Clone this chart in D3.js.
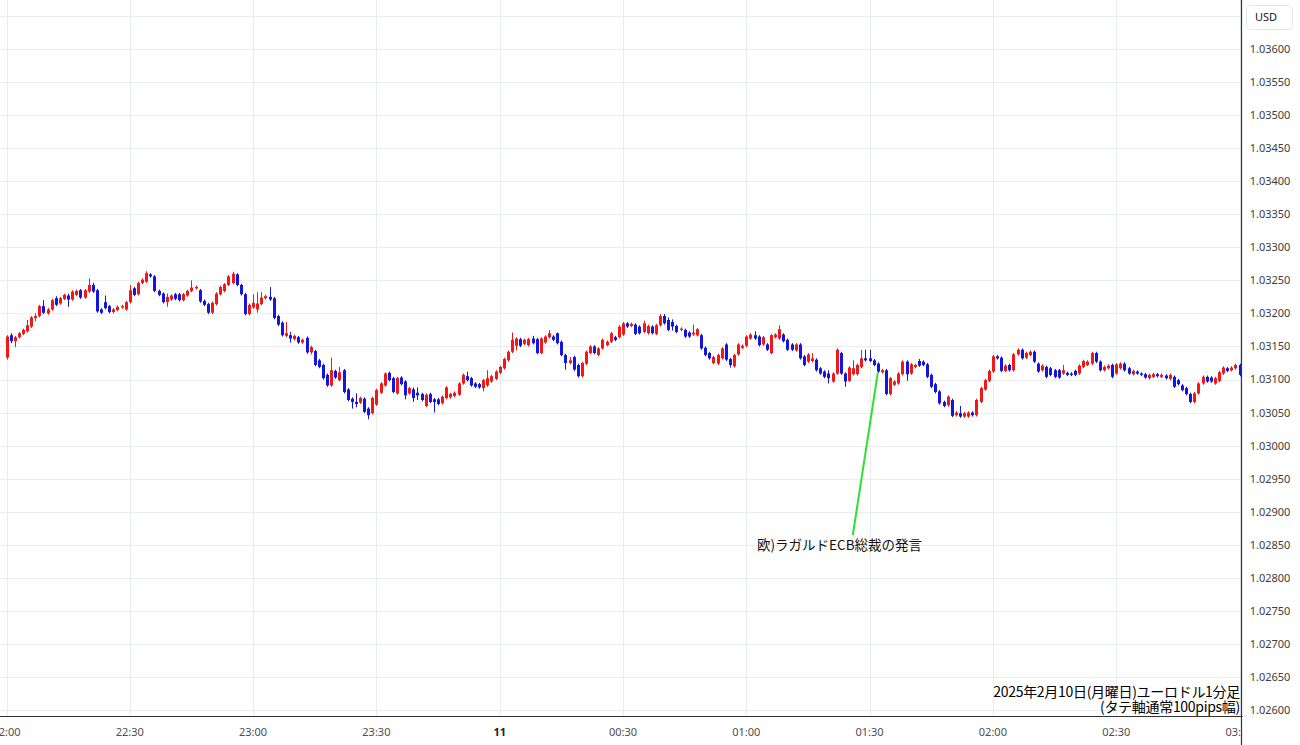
<!DOCTYPE html>
<html><head><meta charset="utf-8">
<script src="https://cdn.jsdelivr.net/npm/d3@7"></script>
<style>html,body{margin:0;padding:0;background:#fff;overflow:hidden}svg{display:block}</style>
</head><body>
<svg id="chart" width="1300" height="745"></svg>
<script>
// ---- data (EUR/USD 1-minute candles, 2025-02-10 22:00 -> 2025-02-11 03:00) ----
const startTime = "2025-02-10T22:00:00Z";
const opens = [
1.03133,1.03167,1.03158,1.03164,1.03169,1.03173,1.03180,1.03193,1.03196,1.03211,
1.03200,1.03206,1.03223,1.03215,1.03222,1.03227,1.03221,1.03228,1.03235,1.03224,
1.03233,1.03243,1.03235,1.03206,1.03217,1.03211,1.03202,1.03205,1.03209,1.03206,
1.03217,1.03238,1.03229,1.03246,1.03248,1.03259,1.03256,1.03234,1.03230,1.03217,
1.03221,1.03229,1.03229,1.03220,1.03227,1.03234,1.03238,1.03235,1.03219,1.03214,
1.03201,1.03214,1.03229,1.03234,1.03243,1.03246,1.03259,1.03243,1.03229,1.03199,
1.03209,1.03206,1.03214,1.03223,1.03225,1.03223,1.03196,1.03186,1.03166,1.03167,
1.03161,1.03164,1.03156,1.03163,1.03141,1.03143,1.03129,1.03122,1.03107,1.03091,
1.03113,1.03099,1.03114,1.03085,1.03071,1.03066,1.03065,1.03071,1.03056,1.03049,
1.03062,1.03080,1.03091,1.03110,1.03102,1.03079,1.03103,1.03097,1.03079,1.03085,
1.03080,1.03078,1.03060,1.03078,1.03070,1.03070,1.03064,1.03072,1.03073,1.03075,
1.03077,1.03094,1.03105,1.03102,1.03094,1.03093,1.03087,1.03091,1.03097,1.03101,
1.03110,1.03117,1.03129,1.03142,1.03151,1.03161,1.03154,1.03152,1.03162,1.03161,
1.03140,1.03156,1.03164,1.03165,1.03170,1.03157,1.03137,1.03125,1.03134,1.03122,
1.03105,1.03124,1.03140,1.03150,1.03137,1.03147,1.03152,1.03157,1.03164,1.03164,
1.03168,1.03185,1.03181,1.03183,1.03180,1.03172,1.03170,1.03180,1.03169,1.03182,
1.03196,1.03190,1.03187,1.03181,1.03175,1.03175,1.03171,1.03168,1.03167,1.03167,
1.03148,1.03140,1.03125,1.03124,1.03132,1.03153,1.03131,1.03120,1.03138,1.03148,
1.03151,1.03162,1.03167,1.03165,1.03153,1.03153,1.03140,1.03164,1.03162,1.03168,
1.03160,1.03153,1.03144,1.03153,1.03135,1.03127,1.03128,1.03130,1.03117,1.03112,
1.03109,1.03097,1.03109,1.03140,1.03109,1.03098,1.03108,1.03108,1.03119,1.03132,
1.03132,1.03129,1.03124,1.03111,1.03114,1.03078,1.03092,1.03094,1.03108,1.03127,
1.03109,1.03119,1.03128,1.03127,1.03123,1.03107,1.03093,1.03082,1.03066,1.03061,
1.03069,1.03046,1.03049,1.03044,1.03044,1.03050,1.03046,1.03066,1.03085,1.03098,
1.03112,1.03135,1.03133,1.03113,1.03122,1.03114,1.03138,1.03145,1.03133,1.03137,
1.03142,1.03124,1.03114,1.03119,1.03117,1.03114,1.03114,1.03109,1.03110,1.03109,
1.03113,1.03109,1.03119,1.03122,1.03124,1.03140,1.03127,1.03114,1.03117,1.03122,
1.03109,1.03117,1.03124,1.03117,1.03108,1.03112,1.03109,1.03108,1.03102,1.03104,
1.03108,1.03104,1.03106,1.03101,1.03104,1.03099,1.03091,1.03087,1.03078,1.03066,
1.03079,1.03094,1.03104,1.03103,1.03094,1.03098,1.03109,1.03117,1.03114,1.03117,
1.03122];
const highs = [
1.03167,1.03170,1.03166,1.03172,1.03177,1.03190,1.03196,1.03200,1.03213,1.03220,
1.03208,1.03222,1.03226,1.03225,1.03230,1.03230,1.03235,1.03236,1.03237,1.03237,
1.03253,1.03246,1.03237,1.03208,1.03227,1.03213,1.03208,1.03212,1.03213,1.03219,
1.03243,1.03240,1.03248,1.03253,1.03264,1.03261,1.03258,1.03236,1.03232,1.03230,
1.03229,1.03231,1.03231,1.03231,1.03236,1.03250,1.03242,1.03237,1.03221,1.03216,
1.03218,1.03232,1.03242,1.03246,1.03258,1.03263,1.03261,1.03245,1.03231,1.03215,
1.03229,1.03232,1.03232,1.03228,1.03240,1.03225,1.03198,1.03188,1.03187,1.03172,
1.03168,1.03166,1.03162,1.03165,1.03151,1.03145,1.03131,1.03124,1.03109,1.03133,
1.03115,1.03119,1.03116,1.03087,1.03073,1.03079,1.03074,1.03073,1.03058,1.03074,
1.03086,1.03096,1.03111,1.03112,1.03104,1.03104,1.03105,1.03099,1.03089,1.03088,
1.03088,1.03080,1.03079,1.03080,1.03072,1.03072,1.03076,1.03090,1.03080,1.03082,
1.03096,1.03109,1.03112,1.03104,1.03096,1.03095,1.03101,1.03114,1.03107,1.03114,
1.03121,1.03133,1.03144,1.03171,1.03164,1.03163,1.03162,1.03163,1.03166,1.03163,
1.03164,1.03167,1.03175,1.03167,1.03171,1.03159,1.03139,1.03134,1.03136,1.03124,
1.03127,1.03144,1.03152,1.03152,1.03149,1.03162,1.03159,1.03172,1.03166,1.03182,
1.03187,1.03187,1.03186,1.03185,1.03182,1.03189,1.03183,1.03182,1.03184,1.03199,
1.03199,1.03194,1.03191,1.03183,1.03179,1.03177,1.03173,1.03183,1.03178,1.03169,
1.03150,1.03142,1.03136,1.03139,1.03149,1.03155,1.03133,1.03139,1.03155,1.03153,
1.03167,1.03170,1.03173,1.03167,1.03166,1.03155,1.03169,1.03170,1.03182,1.03170,
1.03162,1.03155,1.03155,1.03155,1.03137,1.03140,1.03140,1.03132,1.03119,1.03114,
1.03114,1.03111,1.03147,1.03142,1.03111,1.03120,1.03129,1.03124,1.03145,1.03145,
1.03145,1.03131,1.03126,1.03116,1.03116,1.03104,1.03099,1.03111,1.03129,1.03129,
1.03125,1.03124,1.03131,1.03129,1.03125,1.03109,1.03095,1.03084,1.03068,1.03076,
1.03071,1.03052,1.03060,1.03051,1.03052,1.03052,1.03071,1.03089,1.03101,1.03115,
1.03137,1.03137,1.03135,1.03123,1.03124,1.03140,1.03147,1.03147,1.03142,1.03144,
1.03144,1.03126,1.03123,1.03121,1.03119,1.03116,1.03116,1.03122,1.03112,1.03111,
1.03115,1.03123,1.03130,1.03129,1.03142,1.03142,1.03129,1.03121,1.03123,1.03124,
1.03125,1.03126,1.03126,1.03119,1.03115,1.03114,1.03111,1.03110,1.03109,1.03110,
1.03110,1.03109,1.03108,1.03109,1.03106,1.03101,1.03093,1.03089,1.03080,1.03081,
1.03096,1.03106,1.03106,1.03105,1.03104,1.03113,1.03120,1.03119,1.03120,1.03124,
1.03124];
const lows = [
1.03130,1.03155,1.03149,1.03162,1.03167,1.03171,1.03178,1.03188,1.03194,1.03199,
1.03198,1.03204,1.03211,1.03213,1.03220,1.03210,1.03219,1.03226,1.03222,1.03222,
1.03231,1.03231,1.03201,1.03199,1.03206,1.03200,1.03200,1.03203,1.03207,1.03204,
1.03215,1.03226,1.03227,1.03244,1.03246,1.03254,1.03232,1.03226,1.03215,1.03210,
1.03219,1.03220,1.03218,1.03218,1.03225,1.03232,1.03236,1.03216,1.03211,1.03199,
1.03199,1.03212,1.03227,1.03232,1.03241,1.03244,1.03241,1.03227,1.03197,1.03197,
1.03207,1.03201,1.03212,1.03221,1.03219,1.03191,1.03181,1.03165,1.03164,1.03156,
1.03159,1.03154,1.03154,1.03139,1.03138,1.03120,1.03117,1.03100,1.03089,1.03089,
1.03101,1.03097,1.03079,1.03067,1.03056,1.03058,1.03063,1.03049,1.03040,1.03047,
1.03060,1.03078,1.03089,1.03097,1.03079,1.03077,1.03091,1.03070,1.03077,1.03066,
1.03069,1.03067,1.03058,1.03064,1.03050,1.03061,1.03062,1.03070,1.03071,1.03073,
1.03075,1.03092,1.03097,1.03089,1.03087,1.03086,1.03082,1.03089,1.03095,1.03099,
1.03108,1.03115,1.03127,1.03140,1.03144,1.03149,1.03152,1.03150,1.03153,1.03138,
1.03138,1.03154,1.03162,1.03158,1.03153,1.03135,1.03115,1.03123,1.03113,1.03103,
1.03103,1.03122,1.03138,1.03138,1.03135,1.03145,1.03150,1.03155,1.03158,1.03162,
1.03166,1.03178,1.03179,1.03167,1.03168,1.03170,1.03168,1.03168,1.03167,1.03180,
1.03183,1.03173,1.03174,1.03170,1.03173,1.03163,1.03163,1.03166,1.03165,1.03145,
1.03135,1.03130,1.03123,1.03122,1.03130,1.03128,1.03118,1.03118,1.03136,1.03146,
1.03149,1.03160,1.03160,1.03150,1.03151,1.03143,1.03138,1.03162,1.03160,1.03156,
1.03143,1.03143,1.03142,1.03130,1.03120,1.03125,1.03126,1.03112,1.03107,1.03102,
1.03094,1.03095,1.03107,1.03107,1.03089,1.03096,1.03106,1.03106,1.03117,1.03127,
1.03126,1.03120,1.03110,1.03109,1.03076,1.03076,1.03090,1.03092,1.03106,1.03098,
1.03107,1.03117,1.03119,1.03120,1.03102,1.03087,1.03079,1.03062,1.03058,1.03059,
1.03043,1.03044,1.03042,1.03042,1.03042,1.03044,1.03044,1.03064,1.03083,1.03096,
1.03110,1.03130,1.03111,1.03111,1.03112,1.03112,1.03136,1.03130,1.03131,1.03135,
1.03125,1.03110,1.03112,1.03102,1.03105,1.03102,1.03101,1.03107,1.03105,1.03105,
1.03105,1.03107,1.03117,1.03120,1.03122,1.03125,1.03112,1.03112,1.03115,1.03102,
1.03107,1.03115,1.03112,1.03107,1.03106,1.03107,1.03105,1.03101,1.03100,1.03102,
1.03103,1.03102,1.03100,1.03099,1.03087,1.03091,1.03082,1.03076,1.03064,1.03064,
1.03077,1.03092,1.03095,1.03095,1.03092,1.03096,1.03107,1.03111,1.03112,1.03115,
1.03105];
const closes = [
1.03165,1.03158,1.03164,1.03170,1.03175,1.03182,1.03194,1.03196,1.03211,1.03201,
1.03206,1.03220,1.03213,1.03223,1.03228,1.03221,1.03233,1.03234,1.03224,1.03235,
1.03243,1.03233,1.03203,1.03201,1.03208,1.03202,1.03206,1.03210,1.03211,1.03217,
1.03235,1.03228,1.03246,1.03251,1.03261,1.03256,1.03234,1.03228,1.03217,1.03225,
1.03227,1.03222,1.03220,1.03229,1.03234,1.03239,1.03240,1.03218,1.03213,1.03201,
1.03216,1.03230,1.03240,1.03244,1.03256,1.03260,1.03243,1.03229,1.03199,1.03213,
1.03216,1.03215,1.03224,1.03226,1.03221,1.03193,1.03183,1.03167,1.03170,1.03162,
1.03166,1.03156,1.03160,1.03141,1.03149,1.03122,1.03119,1.03102,1.03091,1.03114,
1.03103,1.03111,1.03081,1.03069,1.03066,1.03063,1.03072,1.03051,1.03046,1.03072,
1.03084,1.03094,1.03109,1.03099,1.03081,1.03102,1.03093,1.03076,1.03087,1.03072,
1.03076,1.03069,1.03077,1.03066,1.03066,1.03063,1.03074,1.03088,1.03078,1.03080,
1.03094,1.03107,1.03099,1.03091,1.03089,1.03088,1.03099,1.03102,1.03105,1.03112,
1.03119,1.03131,1.03142,1.03160,1.03162,1.03151,1.03160,1.03161,1.03155,1.03140,
1.03162,1.03165,1.03170,1.03160,1.03155,1.03137,1.03125,1.03129,1.03115,1.03105,
1.03125,1.03142,1.03150,1.03140,1.03147,1.03160,1.03157,1.03170,1.03160,1.03180,
1.03185,1.03180,1.03184,1.03169,1.03170,1.03185,1.03181,1.03170,1.03182,1.03196,
1.03185,1.03175,1.03180,1.03172,1.03177,1.03165,1.03165,1.03171,1.03176,1.03147,
1.03137,1.03132,1.03134,1.03137,1.03147,1.03130,1.03122,1.03137,1.03153,1.03151,
1.03165,1.03168,1.03162,1.03152,1.03164,1.03145,1.03167,1.03168,1.03176,1.03158,
1.03145,1.03145,1.03153,1.03132,1.03122,1.03138,1.03132,1.03114,1.03109,1.03104,
1.03102,1.03109,1.03145,1.03109,1.03097,1.03118,1.03117,1.03122,1.03132,1.03129,
1.03128,1.03122,1.03112,1.03114,1.03078,1.03102,1.03097,1.03109,1.03127,1.03108,
1.03123,1.03122,1.03121,1.03122,1.03104,1.03089,1.03081,1.03064,1.03060,1.03074,
1.03045,1.03050,1.03044,1.03049,1.03050,1.03046,1.03069,1.03087,1.03099,1.03113,
1.03135,1.03132,1.03113,1.03121,1.03114,1.03138,1.03145,1.03132,1.03140,1.03142,
1.03127,1.03112,1.03121,1.03104,1.03107,1.03104,1.03103,1.03114,1.03107,1.03107,
1.03107,1.03121,1.03128,1.03127,1.03140,1.03127,1.03114,1.03119,1.03121,1.03104,
1.03123,1.03124,1.03114,1.03109,1.03113,1.03109,1.03107,1.03103,1.03107,1.03108,
1.03105,1.03107,1.03102,1.03107,1.03089,1.03093,1.03084,1.03078,1.03066,1.03079,
1.03094,1.03104,1.03097,1.03097,1.03102,1.03111,1.03118,1.03113,1.03118,1.03122,
1.03107];
const priceTicks = [1.026,1.0265,1.027,1.0275,1.028,1.0285,1.029,1.0295,1.030,1.0305,1.031,1.0315,1.032,1.0325,1.033,1.0335,1.034,1.0345,1.035,1.0355,1.036];
const timeTickLabels = ["22:00","22:30","23:00","23:30","11","00:30","01:00","01:30","02:00","02:30","03:00"];
const currencyLabel = "USD";
const titleLines = ["2025年2月10日(月曜日)ユーロドル1分足", "(タテ軸通常100pips幅)"];
const eventLabel = "欧)ラガルドECB総裁の発言";
const eventIndex = 212;

// ---- layout ----
const W = 1300, H = 745;
const plotRight = 1241.5, plotBottom = 716.5;
const upColor = "#f21818", downColor = "#1515e0";
const gridColor = "#e9edf2";
const tickFont = "'Noto Sans', 'Open Sans', sans-serif";
const jpFont = "'Noto Sans CJK JP', 'Noto Sans', sans-serif";

const t0 = new Date(startTime);
const times = opens.map((_, i) => d3.utcMinute.offset(t0, i));
const candles = times.map((t, i) => ({t, o: opens[i], h: highs[i], l: lows[i], c: closes[i]}));

const x = d3.scaleUtc().domain([t0, d3.utcMinute.offset(t0, 300)]).range([6.5, 1239.5]);
const y = d3.scaleLinear().domain([1.026, 1.036]).range([710, 49]);

const svg = d3.select("#chart");
svg.append("rect").attr("width", W).attr("height", H).attr("fill", "#fff");

svg.append("defs").append("clipPath").attr("id", "plotclip")
  .append("rect").attr("x", 0).attr("y", 0).attr("width", plotRight).attr("height", plotBottom);

const plot = svg.append("g").attr("clip-path", "url(#plotclip)");

// grid
const gridPrices = priceTicks.concat([1.0365]);
plot.append("g").selectAll("line").data(gridPrices).join("line")
  .attr("x1", 0).attr("x2", plotRight)
  .attr("y1", d => Math.round(y(d)) + 0.5).attr("y2", d => Math.round(y(d)) + 0.5)
  .attr("stroke", gridColor).attr("stroke-width", 1);

const timeTicks = x.ticks(d3.utcMinute.every(30));
plot.append("g").selectAll("line").data(timeTicks).join("line")
  .attr("x1", d => Math.round(x(d)) + 0.5).attr("x2", d => Math.round(x(d)) + 0.5)
  .attr("y1", 0).attr("y2", plotBottom)
  .attr("stroke", gridColor).attr("stroke-width", 1);

// candles
const cg = plot.append("g");
cg.selectAll("line").data(candles).join("line")
  .attr("x1", d => Math.round(x(d.t)) + 0.5).attr("x2", d => Math.round(x(d.t)) + 0.5)
  .attr("y1", d => y(d.h)).attr("y2", d => y(d.l))
  .attr("stroke", d => d.c >= d.o ? upColor : downColor).attr("stroke-width", 1);
cg.selectAll("rect").data(candles).join("rect")
  .attr("x", d => Math.round(x(d.t)) - 1)
  .attr("width", 3)
  .attr("y", d => y(Math.max(d.o, d.c)))
  .attr("height", d => Math.max(1, Math.abs(y(d.o) - y(d.c))))
  .attr("fill", d => d.c >= d.o ? upColor : downColor);

// event annotation
const ev = candles[eventIndex];
const evX = x(ev.t), evY = y(ev.c);
svg.append("line")
  .attr("x1", evX).attr("y1", evY + 1)
  .attr("x2", evX - 25).attr("y2", 535)
  .attr("stroke", "#2fe02f").attr("stroke-width", 2);
svg.append("text").attr("x", 757).attr("y", 550)
  .attr("font-family", jpFont).attr("font-size", 13.5).attr("fill", "#111")
  .text(eventLabel);

// title lines
svg.append("g").selectAll("text").data(titleLines).join("text")
  .attr("x", 1240).attr("y", (d, i) => 697 + i * 14.5)
  .attr("text-anchor", "end")
  .attr("font-family", jpFont).attr("font-size", 14).attr("fill", "#000")
  .attr("letter-spacing", -0.3)
  .text(d => d);

// axis lines
svg.append("line").attr("x1", 0).attr("x2", plotRight + 1).attr("y1", plotBottom).attr("y2", plotBottom)
  .attr("stroke", "#333").attr("stroke-width", 1.2);
svg.append("line").attr("x1", plotRight).attr("x2", plotRight).attr("y1", 0).attr("y2", H)
  .attr("stroke", "#333").attr("stroke-width", 1.2);

// time labels (clipped at the price panel)
svg.append("defs").append("clipPath").attr("id", "timeclip")
  .append("rect").attr("x", 0).attr("y", plotBottom).attr("width", plotRight).attr("height", H - plotBottom);
svg.append("g").attr("clip-path", "url(#timeclip)")
  .selectAll("text").data(timeTicks).join("text")
  .attr("x", d => x(d)).attr("y", 736)
  .attr("text-anchor", "middle")
  .attr("font-family", tickFont).attr("font-size", 11)
  .attr("font-weight", (d, i) => timeTickLabels[i] === "11" ? 700 : 400)
  .attr("fill", (d, i) => timeTickLabels[i] === "11" ? "#222" : "#4d4d4d")
  .text((d, i) => timeTickLabels[i]);

// price labels
svg.append("g").selectAll("text").data(priceTicks).join("text")
  .attr("x", 1270).attr("y", d => y(d))
  .attr("dy", "0.36em").attr("text-anchor", "middle")
  .attr("font-family", tickFont).attr("font-size", 11).attr("fill", "#3d3d3d")
  .text(d => d3.format(".5f")(d));

// currency box
svg.append("rect").attr("x", 1246.5).attr("y", 5.5).attr("width", 46).attr("height", 24).attr("rx", 4)
  .attr("fill", "#fff").attr("stroke", "#e3e6ea");
svg.append("text").attr("x", 1266).attr("y", 17.5).attr("dy", "0.36em").attr("text-anchor", "middle")
  .attr("font-family", tickFont).attr("font-size", 11).attr("fill", "#131722").text(currencyLabel);
</script>
</body></html>
